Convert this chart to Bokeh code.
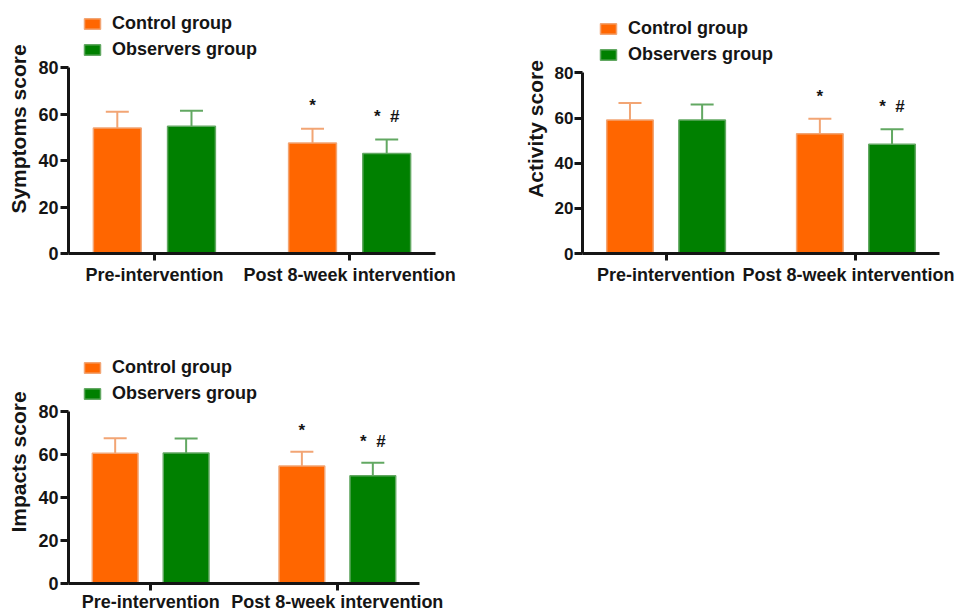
from bokeh.plotting import figure
from bokeh.models import (ColumnDataSource, FixedTicker, Legend, LegendItem,
                          Whisker, TeeHead, Range1d)
from bokeh.layouts import column, row
from bokeh.embed import file_html
from bokeh.resources import INLINE
from bokeh.core.properties import value

# ---------------- data ----------------
categories = ["Pre-intervention", "Post 8-week intervention"]
series_names = ["Control group", "Observers group"]
y_ticks = [0, 20, 40, 60, 80]

symptoms_control = [54.0, 47.5]
symptoms_control_sd = [7.0, 6.2]
symptoms_observers = [54.7, 43.0]
symptoms_observers_sd = [6.7, 6.0]

activity_control = [59.1, 53.1]
activity_control_sd = [7.6, 6.6]
activity_observers = [59.1, 48.4]
activity_observers_sd = [6.9, 6.6]

impacts_control = [60.7, 54.7]
impacts_control_sd = [7.0, 6.7]
impacts_observers = [60.8, 50.2]
impacts_observers_sd = [6.8, 6.1]

control_marks = ["", "*"]
observers_marks = ["", "*\u00a0\u00a0#"]

# ---------------- style ----------------
ORANGE = "#FF6600"
GREEN = "#008000"
ORANGE_LIGHT = "#F2A574"
GREEN_LIGHT = "#62A862"
FONT = "Liberation Sans"
INK = "#151515"


def panel(ylabel, ctrl, ctrl_sd, obs, obs_sd, width, height, borders, y_end,
          legend_loc, label_standoff, tick_font="18px", tick_standoff=2,
          x_standoff=4):
    left, right, top, bottom = borders
    p = figure(width=width, height=height, x_range=Range1d(0.56, 2.44),
               y_range=Range1d(0, y_end), output_backend="svg",
               toolbar_location=None, min_border_left=left,
               min_border_right=right, min_border_top=top,
               min_border_bottom=bottom)
    p.outline_line_color = None
    p.grid.visible = False
    p.background_fill_color = "white"
    p.border_fill_color = "white"

    pos = list(range(1, len(categories) + 1))
    off = 0.19
    bw = 0.245
    groups = [(ctrl, ctrl_sd, ORANGE, ORANGE_LIGHT, control_marks, -off),
              (obs, obs_sd, GREEN, GREEN_LIGHT, observers_marks, off)]
    items = []
    for (m, sd, col, light, marks, o), name in zip(groups, series_names):
        src = ColumnDataSource(dict(
            x=[q + o for q in pos], top=m,
            upper=[a + b for a, b in zip(m, sd)],
            mark_y=[a + b + 10 for a, b in zip(m, sd)],
            mark=marks))
        r = p.vbar(x="x", top="top", bottom=0, width=bw, source=src,
                   fill_color=col, line_color=light, line_width=1.5)
        w = Whisker(source=src, base="x", lower="top", upper="upper",
                    dimension="height", line_color=light, line_width=2,
                    upper_head=TeeHead(size=23, line_color=light, line_width=2),
                    lower_head=None, level="glyph")
        p.add_layout(w)
        p.text(x="x", y="mark_y", text="mark", source=src,
               text_align="center", text_baseline="middle",
               text_font=value(FONT), text_font_style="bold",
               text_font_size="17px", text_color=INK)
        items.append(LegendItem(label=name, renderers=[r]))

    legend = Legend(items=items, location=legend_loc, orientation="vertical",
                    glyph_width=20, glyph_height=13, label_height=20,
                    label_standoff=10, spacing=5, padding=0, margin=0,
                    label_text_font=FONT, label_text_font_size="18px",
                    label_text_font_style="bold", label_text_color=INK,
                    border_line_color=None, background_fill_alpha=0)
    p.add_layout(legend)

    xa = p.xaxis[0]
    xa.ticker = FixedTicker(ticks=pos)
    xa.major_label_overrides = {q: c for q, c in zip(pos, categories)}
    xa.minor_tick_line_color = None
    xa.major_tick_in = 0
    xa.major_tick_out = 7
    xa.axis_line_width = 3
    xa.major_tick_line_width = 3
    xa.axis_line_color = INK
    xa.major_tick_line_color = INK
    xa.major_label_standoff = x_standoff
    xa.major_label_text_font = FONT
    xa.major_label_text_font_size = "18px"
    xa.major_label_text_font_style = "bold"
    xa.major_label_text_color = INK

    ya = p.yaxis[0]
    ya.ticker = FixedTicker(ticks=y_ticks)
    ya.bounds = (0, 80)
    ya.minor_tick_line_color = None
    ya.major_tick_in = 0
    ya.major_tick_out = 8
    ya.axis_line_width = 3
    ya.major_tick_line_width = 3
    ya.axis_line_color = INK
    ya.major_tick_line_color = INK
    ya.major_label_standoff = tick_standoff
    ya.major_label_text_font = FONT
    ya.major_label_text_font_size = tick_font
    ya.major_label_text_font_style = "bold"
    ya.major_label_text_color = INK
    ya.axis_label = ylabel
    ya.axis_label_standoff = label_standoff
    ya.axis_label_text_font = FONT
    ya.axis_label_text_font_size = "21px"
    ya.axis_label_text_font_style = "bold"
    ya.axis_label_text_color = INK
    return p


p1 = panel("Symptoms score", symptoms_control, symptoms_control_sd,
           symptoms_observers, symptoms_observers_sd,
           width=520, height=300, borders=(68, 85, 4, 47), y_end=107.1,
           legend_loc=(14, 193), label_standoff=5)
p2 = panel("Activity score", activity_control, activity_control_sd,
           activity_observers, activity_observers_sd,
           width=434, height=300, borders=(60, 15, 4, 46), y_end=110.3,
           legend_loc=(16, 188), label_standoff=5, tick_font="17px",
           tick_standoff=1)
p3 = panel("Impacts score", impacts_control, impacts_control_sd,
           impacts_observers, impacts_observers_sd,
           width=520, height=314, borders=(68, 101, 40, 29), y_end=113.2,
           legend_loc=(14, 179), label_standoff=5, x_standoff=1)

layout = column(row(p1, p2), p3)
open("out.html", "w").write(file_html(layout, INLINE))
